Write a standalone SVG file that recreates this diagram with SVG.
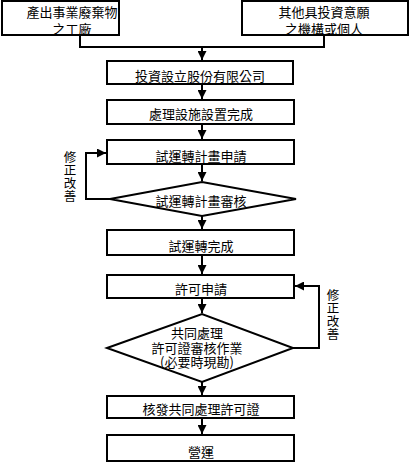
<svg xmlns="http://www.w3.org/2000/svg" width="410" height="463" viewBox="0 0 410 463">
<style>
.box{fill:#fff;stroke:#000;stroke-width:2}
.ln{fill:none;stroke:#000;stroke-width:2}
text{font-family:"Noto Sans CJK TC","Noto Sans CJK SC",sans-serif;font-size:13px;fill:#000;text-anchor:middle;dominant-baseline:central}
.vt{writing-mode:vertical-rl;font-size:12.5px;letter-spacing:0.5px}
</style>
<defs>
<marker id="ah" viewBox="0 0 10 10" refX="10" refY="5" markerWidth="4.5" markerHeight="4.5" orient="auto" markerUnits="strokeWidth">
<path d="M0,0 L10,5 L0,10 Z" fill="#000"/>
</marker>
</defs>
<rect width="410" height="463" fill="#fff"/>
<g id="connectors">
<path class="ln" d="M80,35 V47 H324 V35"/>
<path class="ln" d="M202,47 V60" marker-end="url(#ah)"/>
<path class="ln" d="M202,84 V99" marker-end="url(#ah)"/>
<path class="ln" d="M202,124 V139" marker-end="url(#ah)"/>
<path class="ln" d="M202,164 V181" marker-end="url(#ah)"/>
<path class="ln" d="M202,216 V229" marker-end="url(#ah)"/>
<path class="ln" d="M202,255 V274" marker-end="url(#ah)"/>
<path class="ln" d="M202,298 V313" marker-end="url(#ah)"/>
<path class="ln" d="M202,382 V395" marker-end="url(#ah)"/>
<path class="ln" d="M202,418 V434" marker-end="url(#ah)"/>
<path class="ln" d="M110,199 H86 V153 H106" marker-end="url(#ah)"/>
<path class="ln" d="M293,348 H319 V286 H295" marker-end="url(#ah)"/>
</g>
<g id="n1"><rect class="box" x="2" y="1" width="117" height="34"/><text><tspan x="72" y="11">產出事業廢棄物</tspan><tspan x="72" y="27.5">之工廠</tspan></text></g>
<g id="n2"><rect class="box" x="242" y="1" width="166" height="34"/><text><tspan x="324" y="11">其他具投資意願</tspan><tspan x="324" y="27.5">之機構或個人</tspan></text></g>
<g id="n3"><rect class="box" x="107" y="61" width="186" height="23"/><text x="200" y="75">投資設立股份有限公司</text></g>
<g id="n4"><rect class="box" x="107" y="100" width="187" height="24"/><text x="201" y="113.5">處理設施設置完成</text></g>
<g id="n5"><rect class="box" x="107" y="140" width="187" height="24"/><text x="201" y="155.5">試運轉計畫申請</text></g>
<g id="n6"><polygon class="box" points="110,199 202,182 296,199 202,216"/><text x="201" y="200.5">試運轉計畫審核</text></g>
<g id="n7"><rect class="box" x="107" y="230" width="187" height="25"/><text x="201" y="245.5">試運轉完成</text></g>
<g id="n8"><rect class="box" x="107" y="275" width="187" height="23"/><text x="201" y="288">許可申請</text></g>
<g id="n9"><polygon class="box" points="107,348 202,314 293,348 202,382"/><text><tspan x="197" y="332">共同處理</tspan><tspan x="197" y="346.5">許可證審核作業</tspan><tspan x="197" y="360.5">(必要時現勘)</tspan></text></g>
<g id="n10"><rect class="box" x="107" y="396" width="187" height="22"/><text x="201" y="408">核發共同處理許可證</text></g>
<g id="n11"><rect class="box" x="107" y="435" width="187" height="26"/><text x="201" y="451">營運</text></g>
<g id="lbl1"><text class="vt" x="70" y="177">修正改善</text></g>
<g id="lbl2"><text class="vt" x="333" y="315">修正改善</text></g>
</svg>
